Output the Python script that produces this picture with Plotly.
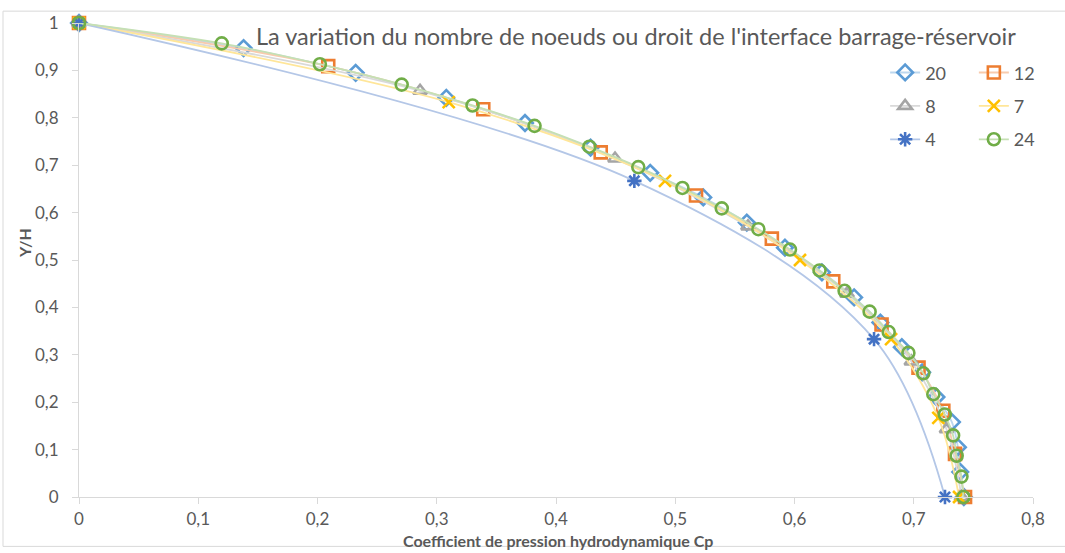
import plotly.graph_objects as go

# Hydrodynamic pressure coefficient along the dam-reservoir interface
# for different numbers of nodes (Y/H versus Cp).

y_20 = [1, 0.947, 0.895, 0.842, 0.789, 0.737, 0.684, 0.632, 0.579, 0.526,
        0.474, 0.421, 0.368, 0.316, 0.263, 0.211, 0.158, 0.105, 0.053, 0]
cp_20 = [0, 0.138, 0.232, 0.308, 0.374, 0.429, 0.479, 0.5235, 0.560, 0.592,
         0.623, 0.650, 0.672, 0.690, 0.707, 0.719, 0.732, 0.737, 0.739, 0.742]

y_12 = [1, 0.909, 0.818, 0.727, 0.636, 0.545, 0.455, 0.364, 0.273, 0.182, 0.091, 0]
cp_12 = [0, 0.209, 0.339, 0.4375, 0.5174, 0.581, 0.6325, 0.673, 0.704, 0.7248, 0.7346, 0.743]

y_8 = [1, 0.857, 0.714, 0.571, 0.429, 0.286, 0.143, 0]
cp_8 = [0, 0.286, 0.4495, 0.561, 0.644, 0.698, 0.7275, 0.740]

y_7 = [1, 0.833, 0.667, 0.5, 0.333, 0.167, 0]
cp_7 = [0, 0.310, 0.4914, 0.6046, 0.681, 0.7206, 0.738]

y_4 = [1, 0.667, 0.333, 0]
cp_4 = [0, 0.4657, 0.6667, 0.7262]

y_24 = [1, 0.957, 0.913, 0.870, 0.826, 0.783, 0.739, 0.696, 0.652, 0.609, 0.565, 0.522,
        0.478, 0.435, 0.391, 0.348, 0.304, 0.261, 0.217, 0.174, 0.130, 0.087, 0.043, 0]
cp_24 = [0, 0.1197, 0.202, 0.2706, 0.330, 0.382, 0.428, 0.469, 0.506, 0.539, 0.5697, 0.5962,
         0.621, 0.642, 0.663, 0.679, 0.6955, 0.708, 0.7164, 0.726, 0.733, 0.736, 0.740, 0.7416]

TEXT_FONT = "Lato, 'Liberation Sans Narrow', sans-serif"
GRAY = "#595959"

series = [
    # name, x, y, marker symbol, marker colour, line colour, legend
    ("20", cp_20, y_20, "diamond-open", "#5b9bd5", "#bdd7ee", "legend"),
    ("12", cp_12, y_12, "square-open", "#ed7d31", "#f8cbad", "legend2"),
    ("8", cp_8, y_8, "triangle-up-open", "#a5a5a5", "#d9d9d9", "legend"),
    ("7", cp_7, y_7, "x-thin-open", "#ffc000", "#ffe699", "legend2"),
    ("4", cp_4, y_4, "asterisk-open", "#4472c4", "#b4c7e7", "legend"),
    ("24", cp_24, y_24, "circle-open", "#70ad47", "#c5e0b4", "legend2"),
]

fig = go.Figure()
for name, xs, ys, sym, mcol, lcol, leg in series:
    fig.add_trace(go.Scatter(
        x=xs, y=ys, name=name, mode="lines+markers",
        line=dict(color=lcol, width=1.8, shape="spline", smoothing=1.0),
        marker=dict(symbol=sym, size=12, color=mcol,
                    line=dict(color=mcol, width=2.6)),
        cliponaxis=False, legend=leg, legendgroup=name,
    ))

axis_common = dict(
    showgrid=False, zeroline=False, showline=True, linecolor="#d9d9d9",
    linewidth=1, ticks="outside", tickcolor="#d9d9d9", ticklen=6,
    tickfont=dict(family=TEXT_FONT, size=17, color=GRAY),
)

fig.update_xaxes(range=[0, 0.8], dtick=0.1, tick0=0, ticklabelstandoff=1, **axis_common)
fig.update_yaxes(range=[0, 1], dtick=0.1, tick0=0, ticklabelstandoff=10, **axis_common)

legend_common = dict(
    orientation="v", bgcolor="rgba(0,0,0,0)", yanchor="top", xanchor="left",
    font=dict(family=TEXT_FONT, size=18, color=GRAY),
    tracegroupgap=7, traceorder="grouped", itemwidth=30,
)

fig.update_layout(
    width=1065, height=553,
    margin=dict(l=79, r=32, t=17, b=56),
    paper_bgcolor="white", plot_bgcolor="white",
    separators=", ",
    showlegend=True,
    legend=dict(x=0.845, y=0.934, **legend_common),
    legend2=dict(x=0.938, y=0.934, **legend_common),
    annotations=[
        dict(text="La variation du nombre de noeuds ou droit de l'interface barrage-réservoir",
             xref="paper", yref="paper", x=0.984, y=0.973, xanchor="right", yanchor="middle",
             showarrow=False, font=dict(family=TEXT_FONT, size=23.5, color=GRAY)),
        dict(text="<b>Coefficient de pression hydrodynamique Cp</b>",
             xref="paper", yref="paper", x=0.502, y=-0.092, xanchor="center", yanchor="middle",
             showarrow=False, font=dict(family=TEXT_FONT, size=16, color=GRAY)),
        dict(text="<b>Y/H</b>", textangle=-90,
             xref="paper", yref="paper", x=-0.057, y=0.535, xanchor="center", yanchor="middle",
             showarrow=False, font=dict(family=TEXT_FONT, size=16, color=GRAY)),
    ],
    shapes=[dict(type="rect", xref="paper", yref="paper",
                 x0=-76 / 954, x1=1028 / 954, y0=-50 / 480, y1=1 + 12 / 480,
                 line=dict(color="#d9d9d9", width=1), fillcolor="rgba(0,0,0,0)", layer="below")],
)

fig.write_html("out.html")
